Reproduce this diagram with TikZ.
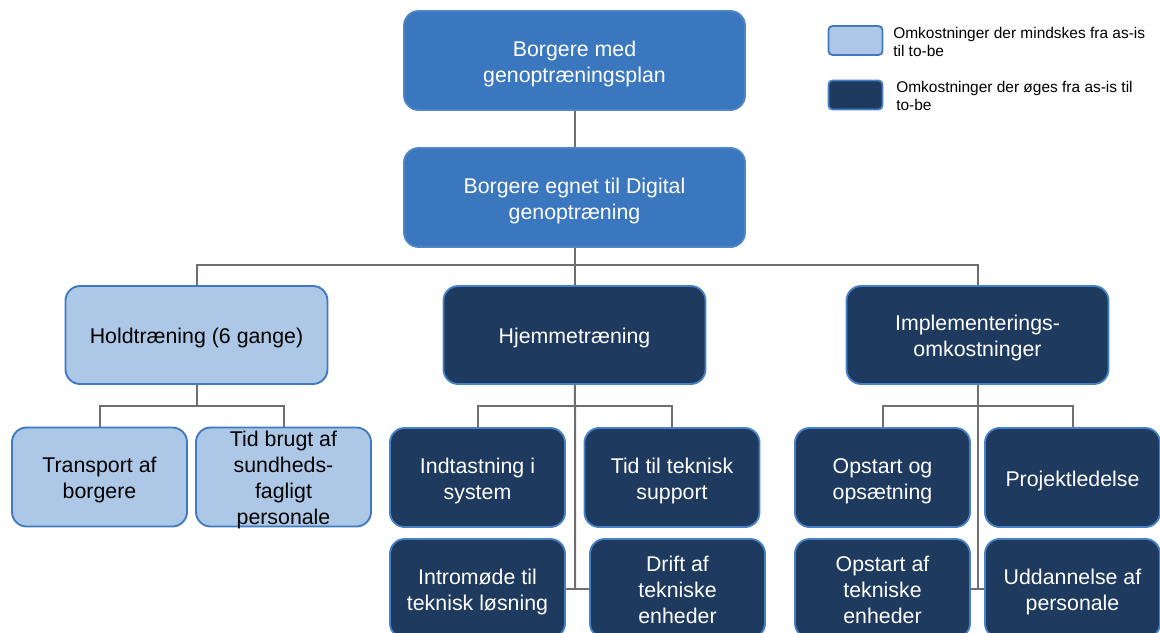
\documentclass[tikz,border=0pt]{standalone}
\usepackage{fontspec}
\setmainfont{Liberation Sans}
\definecolor{midblue}{RGB}{58,119,191}
\definecolor{midedge}{RGB}{78,134,200}
\definecolor{lightfill}{RGB}{173,200,230}
\definecolor{lightedge}{RGB}{62,121,193}
\definecolor{darkfill}{RGB}{31,58,95}
\definecolor{darkedge}{RGB}{70,128,198}
\definecolor{linegray}{RGB}{110,110,110}
% struts that push the text a little lower in its box
\newcommand{\lift}{\rule{0pt}{16.2pt}}
\newcommand{\sink}{\rule[-3.4pt]{0pt}{0pt}}

\begin{document}
\begin{tikzpicture}[x=0.75pt,y=-0.75pt,
  box/.style={rounded corners=11pt, align=center, inner sep=1pt, line width=1.4pt,
    font=\fontsize{16}{19.5}\selectfont},
  topbox/.style={box, fill=midblue, draw=midedge, text=white,
    minimum width=255.75pt, minimum height=74.25pt},
  lightbig/.style={box, fill=lightfill, draw=lightedge, text=black,
    minimum width=196.5pt, minimum height=73.5pt},
  darkbig/.style={box, fill=darkfill, draw=darkedge, text=white,
    minimum width=196.5pt, minimum height=73.5pt},
  lightsmall/.style={lightbig, minimum width=131.25pt, minimum height=74.25pt},
  darksmall/.style={darkbig, minimum width=131.25pt, minimum height=74.25pt},
  legbox/.style={rounded corners=3pt, line width=1.4pt, minimum width=40.5pt, minimum height=21.75pt},
  legtext/.style={anchor=west, align=left, inner sep=0pt, font=\fontsize{11.6}{13}\selectfont},
  link/.style={draw=linegray, line width=1.5pt}]
\useasboundingbox (0,0) rectangle (1160,632);
\clip (0,0) rectangle (1160,632);
% top boxes
\node[topbox] (plan) at (574.5,60.5) {\lift Borgere med\\genoptræningsplan\sink};
\node[topbox] (egnet) at (574.5,197.5) {\lift Borgere egnet til Digital\\genoptræning\sink};
% second level
\node[lightbig] (hold) at (196.5,335) {\lift Holdtræning (6 gange)\sink};
\node[darkbig] (hjem) at (574.5,335) {\lift Hjemmetræning\sink};
\node[darkbig] (impl) at (977.5,335) {\lift Implementerings-\\omkostninger\sink};
% under holdtraening (text runs over the box)
\node[lightsmall] (transport) at (99.5,477) {\lift Transport af\\borgere\sink};
\node[lightsmall, label={[box, text=black, yshift=-2.4pt]center:Tid brugt af\\sundheds-\\fagligt\\personale}]
  (tidbrugt) at (283.5,477) {};
% under hjemmetraening
\node[darksmall] (indtast) at (477.5,477.5) {\lift Indtastning i\\system\sink};
\node[darksmall] (support) at (672,477.5) {\lift Tid til teknisk\\support\sink};
\node[darksmall] (intro) at (477.5,588.5) {\lift Intromøde til\\teknisk løsning\sink};
\node[darksmall] (drift) at (677.5,588.5) {\lift Drift af\\tekniske\\enheder\sink};
% under implementering
\node[darksmall] (opsaet) at (882.5,477.5) {\lift Opstart og\\opsætning\sink};
\node[darksmall] (projekt) at (1072.5,477.5) {\lift Projektledelse\sink};
\node[darksmall] (enheder) at (882.5,588.5) {\lift Opstart af\\tekniske\\enheder\sink};
\node[darksmall] (uddan) at (1072.5,588.5) {\lift Uddannelse af\\personale\sink};
% legend
\node[legbox, fill=lightfill, draw=lightedge] (legA) at (855.5,40.5) {};
\node[legtext] (legAtxt) at (893,42) {Omkostninger der mindskes fra as-is\\til to-be};
\node[legbox, fill=darkfill, draw=darkedge] (legB) at (855.5,95) {};
\node[legtext] (legBtxt) at (896,96) {Omkostninger der øges fra as-is til\\to-be};
% connectors
\coordinate (busA) at (574.5,265);
\coordinate (busB) at (196.5,406);
\coordinate (busC) at (575,406);
\coordinate (busCend) at (575,588.5);
\coordinate (busD) at (977.5,406);
\coordinate (busDend) at (977.5,588.5);
\draw[link] (plan) -- (egnet);
\draw[link] (egnet) -- (busA) -- (hjem);
\draw[link] (hold.north) |- (busA) -| (impl.north);
\draw[link] (hold) -- (busB);
\draw[link] (transport.north) |- (busB) -| (tidbrugt.north);
\draw[link] (hjem) -- (busC) -- (busCend);
\draw[link] (indtast.north) |- (busC) -| (support.north);
\draw[link] (intro.east) -- (drift.west);
\draw[link] (impl.south) -- (busD) -- (busDend);
\draw[link] (opsaet.north) |- (busD) -| (projekt.north);
\draw[link] (enheder.east) -- (uddan.west);
\end{tikzpicture}
\end{document}
